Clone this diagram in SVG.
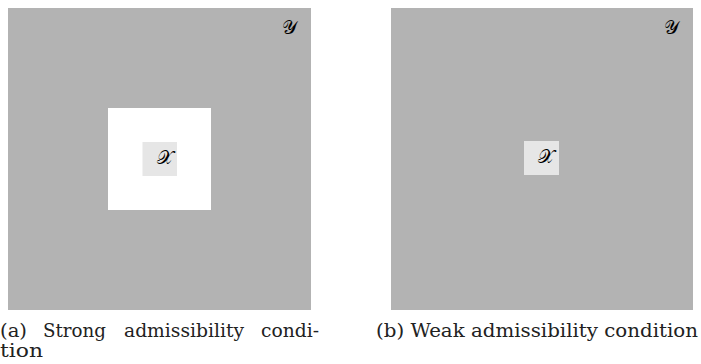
<svg xmlns="http://www.w3.org/2000/svg" width="701" height="364" viewBox="0 0 701 364">
<style>
.outer{fill:#b3b3b3}
.inner{fill:#e6e6e6}
.math{font-family:'DejaVu Serif',serif;font-size:19px;fill:#000}
.cap{font-family:'DejaVu Serif',serif;font-size:18px;fill:#222}
</style>
<rect width="701" height="364" fill="#fff"/>
<g id="panel-a">
<rect class="outer" x="8" y="8" width="303" height="302"/>
<rect x="108" y="108" width="103" height="102" fill="#fff"/>
<rect class="inner" x="142.5" y="142" width="34.5" height="34"/>
<text class="math" x="157" y="164">𝒳</text>
<text class="math" x="282" y="34">𝒴</text>
</g>
<g id="panel-b">
<rect class="outer" x="391" y="8" width="302" height="302"/>
<rect class="inner" x="524" y="141" width="35" height="34"/>
<text class="math" x="538" y="163">𝒳</text>
<text class="math" x="664" y="34">𝒴</text>
</g>
<g id="captions">
<text class="cap" x="0" y="337" textLength="27" lengthAdjust="spacingAndGlyphs">(a)</text>
<text class="cap" x="43" y="337" textLength="63" lengthAdjust="spacingAndGlyphs">Strong</text>
<text class="cap" x="124" y="337" textLength="120" lengthAdjust="spacingAndGlyphs">admissibility</text>
<text class="cap" x="261" y="337" textLength="58" lengthAdjust="spacingAndGlyphs">condi-</text>
<text class="cap" x="0" y="357" textLength="43" lengthAdjust="spacingAndGlyphs">tion</text>
<text class="cap" x="376" y="337" textLength="322" lengthAdjust="spacingAndGlyphs">(b) Weak admissibility condition</text>
</g>
</svg>
